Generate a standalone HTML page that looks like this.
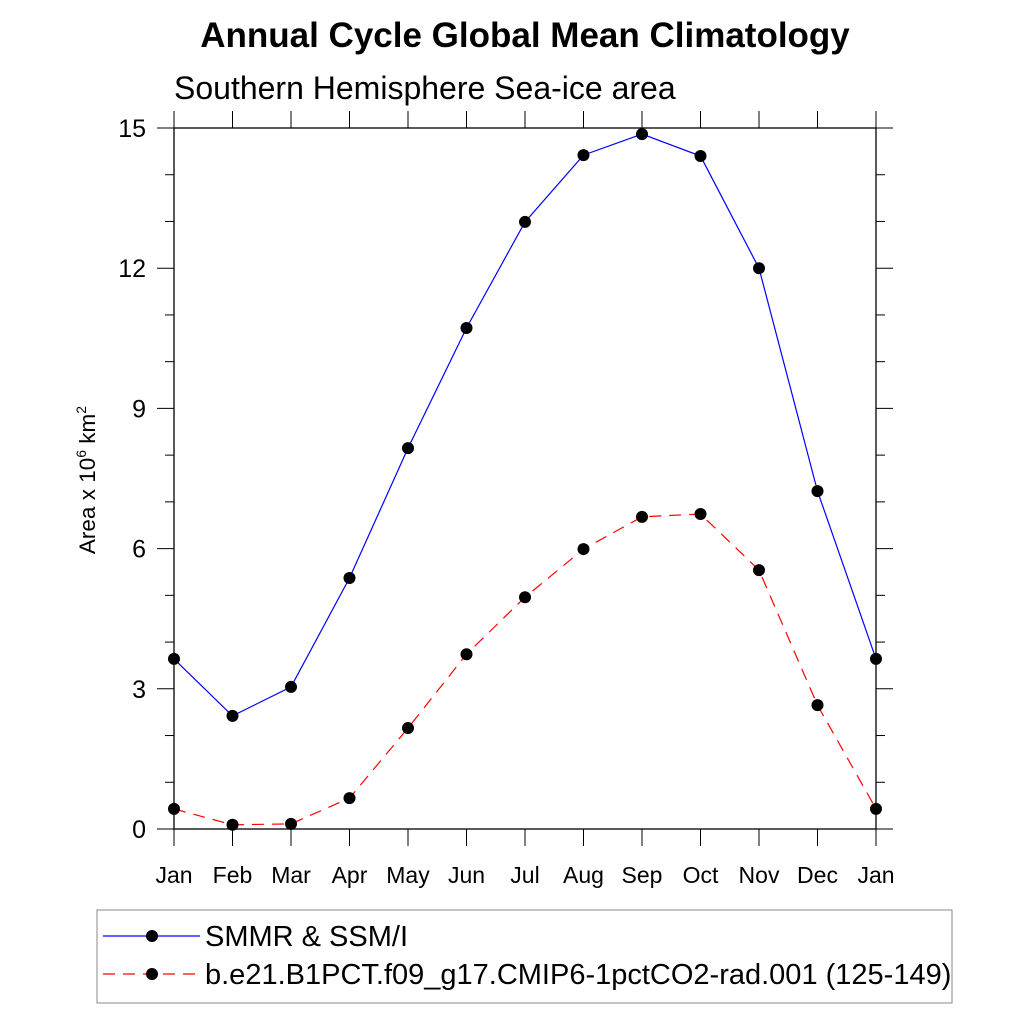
<!DOCTYPE html>
<html><head><meta charset="utf-8"><style>
html,body{margin:0;padding:0;background:#fff}
svg{display:block;font-family:"Liberation Sans",Arial,sans-serif}
</style></head><body>
<svg id="chart" width="1024" height="1024" viewBox="0 0 1024 1024">
<text x="525" y="47" text-anchor="middle" font-size="35" font-weight="bold">Annual Cycle Global Mean Climatology</text>
<text x="174" y="99" font-size="32">Southern Hemisphere Sea-ice area</text>
<text transform="translate(95,480) rotate(-90)" text-anchor="middle" font-size="22.5">Area x 10<tspan dy="-9" font-size="14">6</tspan><tspan dy="9"> km</tspan><tspan dy="-9" font-size="14">2</tspan></text>
<g id="axes"></g>
<g id="series"></g>
<g>
<rect x="97" y="910" width="855" height="93" fill="none" stroke="#888" stroke-width="1"/>
<line x1="103" y1="936" x2="200" y2="936" stroke="#0000ff" stroke-width="1.2"/>
<circle cx="152" cy="936" r="6" fill="#000"/>
<text x="205" y="946" font-size="29">SMMR &amp; SSM/I</text>
<line x1="103" y1="974" x2="200" y2="974" stroke="#ff0000" stroke-width="1.2" stroke-dasharray="12,8"/>
<circle cx="152" cy="974" r="6" fill="#000"/>
<text x="205" y="984" font-size="29">b.e21.B1PCT.f09_g17.CMIP6-1pctCO2-rad.001 (125-149)</text>
</g>
</svg>
<script>
const months = ["Jan","Feb","Mar","Apr","May","Jun","Jul","Aug","Sep","Oct","Nov","Dec","Jan"];
const obsValues = [3.64,2.42,3.04,5.37,8.15,10.72,12.99,14.42,14.87,14.40,12.0,7.23,3.64];
const modelValues = [0.43,0.09,0.11,0.66,2.16,3.74,4.96,5.99,6.68,6.74,5.54,2.65,0.43];
const yTicks = [0,3,6,9,12,15];

const L=174,R=876,T=128,B=829,YMAX=15;
const xs=i=>L+(R-L)*i/(months.length-1);
const ys=v=>B-(B-T)*v/YMAX;
const NS="http://www.w3.org/2000/svg";
function mk(tag,attrs,parent){const e=document.createElementNS(NS,tag);for(const k in attrs)e.setAttribute(k,attrs[k]);parent.appendChild(e);return e;}
const ax=document.getElementById('axes'), sg=document.getElementById('series');

const frame=mk('rect',{x:L,y:T,width:R-L,height:B-T,fill:'none',stroke:'#000','stroke-width':1.3},ax);



for(let v=0;v<=YMAX;v++){
  const y=ys(v), major=yTicks.includes(v), len=major?17:9;
  const t1=mk('line',{x1:L-len,y1:y,x2:L,y2:y,stroke:'#000','stroke-width':1},ax);
  
  
  const t2=mk('line',{x1:R,y1:y,x2:R+len,y2:y,stroke:'#000','stroke-width':1},ax);
  
  
}
yTicks.forEach(v=>{
  const t=mk('text',{x:L-28,y:ys(v)+9,'text-anchor':'end','font-size':25},ax);
  t.textContent=v;
  
  
});
months.forEach((m,i)=>{
  const x=xs(i);
  const a=mk('line',{x1:x,y1:T-17,x2:x,y2:T,stroke:'#000','stroke-width':1},ax);
  
  
  const b=mk('line',{x1:x,y1:B,x2:x,y2:B+17,stroke:'#000','stroke-width':1},ax);
  
  
  const t=mk('text',{x:x,y:883,'text-anchor':'middle','font-size':23},ax);
  t.textContent=m;
  
  
});

function series(vals,color,dash,name){
  const p=mk('polyline',{points:vals.map((v,i)=>xs(i)+','+ys(v)).join(' '),fill:'none',stroke:color,'stroke-width':1.2,'stroke-dasharray':dash},sg);
  
  
  vals.forEach((v,i)=>{
    const c=mk('circle',{cx:xs(i),cy:ys(v),r:6,fill:'#000'},sg);
    
    
  });
}
series(obsValues,'#0000ff','none','obs');
series(modelValues,'#ff0000','12,8','model');
</script>
</body></html>
